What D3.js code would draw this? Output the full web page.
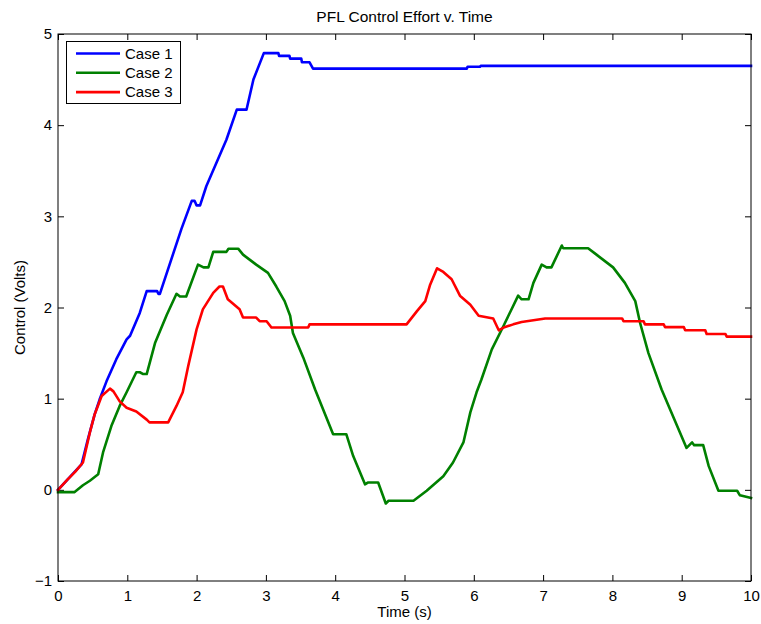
<!DOCTYPE html>
<html>
<head>
<meta charset="utf-8">
<script src="https://cdn.jsdelivr.net/npm/d3@7"></script>
<style>
  html, body { margin: 0; padding: 0; background: #fff; }
  svg { display: block; font-family: "Liberation Sans", Arial, Helvetica, sans-serif; }
</style>
</head>
<body>
<svg id="chart" width="761" height="624"></svg>
<script>
// Control effort traces (time in s, control in V)
const case1T = [0, 0.14, 0.34, 0.43, 0.53, 0.60, 0.70, 0.84, 0.99, 1.04, 1.18, 1.28, 1.43, 1.45, 1.47, 1.78, 1.93, 1.97, 2.00, 2.05, 2.14, 2.43, 2.58, 2.72, 2.82, 2.97, 3.18, 3.19, 3.34, 3.35, 3.51, 3.52, 3.63, 3.68, 5.90, 5.91, 6.09, 6.10, 10];
const case1V = [0, 0.115, 0.28, 0.55, 0.83, 0.99, 1.19, 1.43, 1.65, 1.69, 1.94, 2.18, 2.18, 2.15, 2.15, 2.86, 3.17, 3.17, 3.12, 3.12, 3.33, 3.84, 4.17, 4.17, 4.50, 4.79, 4.79, 4.76, 4.76, 4.73, 4.73, 4.69, 4.69, 4.62, 4.62, 4.64, 4.64, 4.65, 4.65];

const case2T = [0, 0.24, 0.36, 0.46, 0.58, 0.65, 0.77, 0.89, 0.99, 1.13, 1.18, 1.23, 1.28, 1.40, 1.57, 1.71, 1.76, 1.85, 2.02, 2.10, 2.17, 2.24, 2.43, 2.46, 2.60, 2.67, 2.86, 3.03, 3.15, 3.27, 3.35, 3.39, 3.49, 3.54, 3.71, 3.97, 4.16, 4.26, 4.43, 4.47, 4.62, 4.73, 4.77, 5.13, 5.32, 5.56, 5.70, 5.85, 5.95, 6.04, 6.11, 6.26, 6.43, 6.64, 6.69, 6.79, 6.86, 6.98, 7.05, 7.12, 7.27, 7.29, 7.65, 7.77, 8.01, 8.18, 8.33, 8.40, 8.52, 8.71, 9.07, 9.15, 9.18, 9.31, 9.39, 9.53, 9.80, 9.84, 10];
const case2V = [-0.025, -0.025, 0.05, 0.10, 0.17, 0.41, 0.70, 0.92, 1.07, 1.29, 1.29, 1.27, 1.27, 1.61, 1.92, 2.15, 2.12, 2.12, 2.47, 2.44, 2.44, 2.61, 2.61, 2.645, 2.645, 2.58, 2.47, 2.38, 2.23, 2.07, 1.91, 1.72, 1.54, 1.45, 1.10, 0.61, 0.61, 0.37, 0.06, 0.08, 0.08, -0.15, -0.12, -0.12, -0.01, 0.15, 0.30, 0.52, 0.85, 1.07, 1.21, 1.54, 1.80, 2.13, 2.09, 2.09, 2.27, 2.47, 2.44, 2.44, 2.68, 2.65, 2.65, 2.58, 2.44, 2.27, 2.07, 1.83, 1.50, 1.10, 0.46, 0.52, 0.49, 0.49, 0.26, -0.01, -0.01, -0.06, -0.09];

const case3T = [0, 0.14, 0.25, 0.36, 0.46, 0.53, 0.63, 0.75, 0.80, 0.89, 0.99, 1.13, 1.28, 1.32, 1.59, 1.71, 1.80, 1.88, 2.00, 2.09, 2.24, 2.33, 2.38, 2.45, 2.62, 2.67, 2.86, 2.91, 3.01, 3.08, 3.61, 3.63, 5.03, 5.18, 5.30, 5.37, 5.47, 5.56, 5.68, 5.80, 5.95, 6.07, 6.28, 6.36, 6.43, 6.57, 6.69, 7.03, 8.14, 8.16, 8.45, 8.47, 8.74, 8.76, 9.03, 9.05, 9.34, 9.36, 9.63, 9.65, 10];
const case3V = [0, 0.115, 0.20, 0.30, 0.63, 0.83, 1.03, 1.11, 1.08, 0.97, 0.90, 0.86, 0.77, 0.74, 0.74, 0.92, 1.07, 1.36, 1.76, 1.98, 2.16, 2.23, 2.23, 2.09, 1.98, 1.89, 1.89, 1.85, 1.85, 1.78, 1.78, 1.815, 1.815, 1.96, 2.07, 2.25, 2.43, 2.39, 2.31, 2.13, 2.03, 1.91, 1.88, 1.75, 1.78, 1.815, 1.84, 1.88, 1.88, 1.85, 1.85, 1.815, 1.815, 1.785, 1.785, 1.75, 1.75, 1.71, 1.71, 1.68, 1.68];

const seriesNames = ["Case 1", "Case 2", "Case 3"];
const seriesColors = ["#0000ff", "#008000", "#ff0000"];
const xTicks = [0, 1, 2, 3, 4, 5, 6, 7, 8, 9, 10];
const yTicks = [-1, 0, 1, 2, 3, 4, 5];

const series = [
  { name: seriesNames[0], color: seriesColors[0], pts: case1T.map((t, i) => [t, case1V[i]]) },
  { name: seriesNames[1], color: seriesColors[1], pts: case2T.map((t, i) => [t, case2V[i]]) },
  { name: seriesNames[2], color: seriesColors[2], pts: case3T.map((t, i) => [t, case3V[i]]) }
];

const svg = d3.select("#chart");
const plotLeft = 58, plotRight = 751, plotTop = 34, plotBottom = 581;

const x = d3.scaleLinear().domain([0, 10]).range([plotLeft, plotRight]);
const y = d3.scaleLinear().domain([-1, 5]).range([plotBottom, plotTop]);

const tickLen = 6;
const fontSize = 15;

// axes with inward ticks on all four sides
const axB = svg.append("g").attr("transform", `translate(0,${plotBottom})`)
  .call(d3.axisBottom(x).tickValues(xTicks).tickSize(-tickLen).tickPadding(9).tickFormat(d3.format("d")));
const axT = svg.append("g").attr("transform", `translate(0,${plotTop})`)
  .call(d3.axisTop(x).tickValues(xTicks).tickSize(-tickLen).tickFormat(""));
const axL = svg.append("g").attr("transform", `translate(${plotLeft},0)`)
  .call(d3.axisLeft(y).tickValues(yTicks).tickSize(-tickLen).tickPadding(6).tickFormat(d => d < 0 ? "\u2212" + Math.abs(d) : d));
const axR = svg.append("g").attr("transform", `translate(${plotRight},0)`)
  .call(d3.axisRight(y).tickValues(yTicks).tickSize(-tickLen).tickFormat(""));

[axB, axT, axL, axR].forEach(g => {
  g.select(".domain").remove();
  g.selectAll(".tick line").attr("stroke", "#000").attr("stroke-width", 1);
  g.selectAll("text").attr("fill", "#000").style("font-size", fontSize + "px").style("font-family", "'Liberation Sans', Arial, sans-serif");
});

// plot lines
const line = d3.line().x(d => x(d[0])).y(d => y(d[1]));
const plot = svg.append("g");
series.forEach(s => {
  plot.append("path")
    .attr("d", line(s.pts))
    .attr("fill", "none")
    .attr("stroke", s.color)
    .attr("stroke-width", 2.6)
    .attr("stroke-linejoin", "round")
    .attr("stroke-linecap", "square");
});

// axes box
svg.append("rect")
  .attr("x", plotLeft).attr("y", plotTop)
  .attr("width", plotRight - plotLeft).attr("height", plotBottom - plotTop)
  .attr("fill", "none").attr("stroke", "#000").attr("stroke-width", 1);

// title and axis labels
svg.append("text")
  .attr("x", (plotLeft + plotRight) / 2).attr("y", 22)
  .attr("text-anchor", "middle").style("font-size", "15.5px")
  .text("PFL Control Effort v. Time");

svg.append("text")
  .attr("x", (plotLeft + plotRight) / 2).attr("y", 617)
  .attr("text-anchor", "middle").style("font-size", fontSize + "px")
  .text("Time (s)");

svg.append("text")
  .attr("transform", `translate(25,${(plotTop + plotBottom) / 2}) rotate(-90)`)
  .attr("text-anchor", "middle").style("font-size", fontSize + "px")
  .text("Control (Volts)");

// legend
const lg = svg.append("g");
lg.append("rect")
  .attr("x", 66.5).attr("y", 41.5).attr("width", 114).attr("height", 62)
  .attr("fill", "#fff").attr("stroke", "#000").attr("stroke-width", 1);
series.forEach((s, i) => {
  const ry = 53.5 + i * 19.3;
  lg.append("line")
    .attr("x1", 76).attr("x2", 120).attr("y1", ry).attr("y2", ry)
    .attr("stroke", s.color).attr("stroke-width", 2.6);
  lg.append("text")
    .attr("x", 125).attr("y", ry).attr("dy", "0.35em")
    .style("font-size", fontSize + "px")
    .text(s.name);
});
</script>
</body>
</html>
